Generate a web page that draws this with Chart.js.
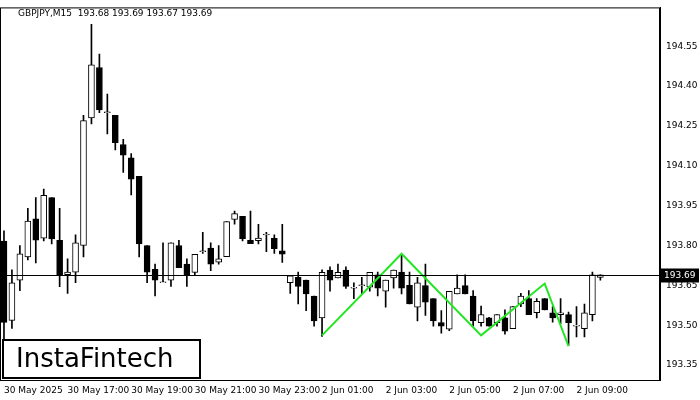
<!DOCTYPE html>
<html>
<head>
<meta charset="utf-8">
<script src="https://cdn.jsdelivr.net/npm/chart.js@4.4.1/dist/chart.umd.min.js"></script>
<style>
  body { margin: 0; background: #fff; }
  #wrap { width: 700px; height: 400px; }
</style>
</head>
<body>
<div id="wrap"><canvas id="myChart"></canvas></div>
<script>
// candle data, 15 minute bars GBPJPY
const opens  = [193.817,193.518,193.67,193.757,193.90,193.828,193.98,193.82,193.69,193.70,
  193.80,194.28,194.47,194.30,194.29,194.18,194.13,194.06,193.80,193.71,
  193.66,193.67,193.80,193.73,193.699,193.777,193.79,193.737,193.758,193.898,
  193.91,193.82,193.818,193.84,193.827,193.78,193.66,193.68,193.67,193.61,
  193.528,193.708,193.678,193.708,193.64,193.649,193.643,193.69,193.628,193.678,
  193.70,193.65,193.568,193.649,193.60,193.51,193.485,193.618,193.649,193.61,
  193.51,193.528,193.51,193.528,193.487,193.58,193.60,193.547,193.60,193.547,
  193.54,193.54,193.497,193.487,193.54,193.68];
const highs  = [193.855,193.709,193.80,193.94,193.98,194.012,193.98,193.94,193.75,193.84,
  194.29,194.632,194.52,194.37,194.29,194.20,194.146,194.06,193.80,193.73,
  193.81,193.81,193.82,193.75,193.767,193.85,193.81,193.80,193.89,193.93,
  193.91,193.93,193.88,193.85,193.84,193.88,193.686,193.70,193.67,193.61,
  193.709,193.72,193.73,193.72,193.66,193.68,193.699,193.70,193.67,193.708,
  193.765,193.70,193.68,193.73,193.60,193.555,193.628,193.69,193.69,193.63,
  193.572,193.53,193.54,193.558,193.57,193.62,193.63,193.60,193.60,193.57,
  193.60,193.55,193.57,193.58,193.70,193.69];
const lows   = [193.443,193.488,193.63,193.746,193.735,193.817,193.806,193.645,193.62,193.66,
  193.757,194.258,194.30,194.22,194.16,194.075,193.99,193.757,193.66,193.61,
  193.66,193.646,193.717,193.646,193.69,193.77,193.705,193.73,193.758,193.88,
  193.817,193.807,193.806,193.777,193.77,193.736,193.62,193.58,193.555,193.497,
  193.458,193.628,193.678,193.639,193.60,193.62,193.628,193.61,193.568,193.64,
  193.618,193.58,193.516,193.537,193.497,193.47,193.48,193.618,193.618,193.497,
  193.497,193.497,193.497,193.466,193.487,193.57,193.54,193.528,193.558,193.512,
  193.506,193.425,193.456,193.456,193.516,193.67];
const closes = [193.511,193.66,193.769,193.892,193.82,193.989,193.825,193.69,193.70,193.81,
  194.27,194.48,194.31,194.30,194.187,194.14,194.05,193.806,193.70,193.67,
  193.66,193.81,193.717,193.69,193.767,193.777,193.73,193.75,193.89,193.92,
  193.826,193.807,193.828,193.84,193.788,193.767,193.686,193.646,193.618,193.516,
  193.699,193.67,193.699,193.646,193.64,193.649,193.699,193.64,193.67,193.708,
  193.64,193.58,193.66,193.587,193.516,193.497,193.628,193.64,193.618,193.516,
  193.54,193.497,193.54,193.478,193.57,193.61,193.54,193.59,193.558,193.528,
  193.547,193.51,193.497,193.547,193.69,193.69];
const timeLabels = ['30 May 2025','30 May 17:00','30 May 19:00','30 May 21:00','30 May 23:00',
  '2 Jun 01:00','2 Jun 03:00','2 Jun 05:00','2 Jun 07:00','2 Jun 09:00'];
const priceTicks = [193.35,193.50,193.65,193.80,193.95,194.10,194.25,194.40,194.55];
// double top pattern line (candle index, price)
const patternIdx = [40, 50, 60, 68, 71];
const patternVal = [193.462, 193.769, 193.462, 193.657, 193.421];
const lastPrice = 193.69;

const slots = 83;
const labels = [];
for (let i = 0; i < slots; i++) labels.push(i % 8 === 0 ? (timeLabels[i / 8] || '') : '');

const wicks = [], bodies = [], bodyColors = [];
for (let i = 0; i < opens.length; i++) {
  wicks.push([lows[i], highs[i]]);
  let o = opens[i], c = closes[i];
  if (Math.abs(o - c) < 0.003) c = o + 0.003;
  bodies.push([o, c]);
  bodyColors.push(closes[i] >= opens[i] ? '#ffffff' : '#000000');
}
const pattern = new Array(slots).fill(null);
patternIdx.forEach((k, j) => { pattern[k] = patternVal[j]; });

const overlay = {
  id: 'overlay',
  afterDatasetsDraw(chart) {
    const ctx = chart.ctx, a = chart.chartArea, y = chart.scales.y;
    ctx.save();
    // frame
    ctx.strokeStyle = '#000'; ctx.lineWidth = 1;
    ctx.strokeRect(a.left + 0.5, a.top + 0.5, a.right - a.left - 1, a.bottom - a.top);
    // last price line
    const py = Math.round(y.getPixelForValue(lastPrice)) + 0.5;
    ctx.beginPath(); ctx.moveTo(a.left, py); ctx.lineTo(a.right, py); ctx.stroke();
    ctx.fillStyle = '#000';
    ctx.fillRect(a.right + 1, py - 7, 38, 14);
    ctx.fillStyle = '#fff'; ctx.font = '9px "DejaVu Sans"';
    ctx.textBaseline = 'middle'; ctx.textAlign = 'left';
    ctx.fillText(lastPrice.toFixed(2), a.right + 4, py);
    // header
    ctx.fillStyle = '#000'; ctx.textBaseline = 'alphabetic';
    ctx.fillText('GBPJPY,M15  193.68 193.69 193.67 193.69', 18, 16);
    // logo
    ctx.fillStyle = '#fff'; ctx.fillRect(3, 340, 197, 38);
    ctx.lineWidth = 2; ctx.strokeRect(3, 340, 197, 38);
    ctx.fillStyle = '#000'; ctx.font = '26px "DejaVu Sans"';
    ctx.textBaseline = 'middle';
    ctx.fillText('InstaFintech', 16, 360);
    ctx.restore();
  }
};

new Chart(document.getElementById('myChart'), {
  data: {
    labels: labels,
    datasets: [
      { type: 'line', data: pattern, spanGaps: true, borderColor: '#22e622', borderWidth: 2,
        pointRadius: 0, order: 0 },
      { type: 'bar', data: bodies, backgroundColor: bodyColors, borderColor: '#000',
        borderWidth: 1, borderSkipped: false, barThickness: 6, grouped: false, order: 1 },
      { type: 'bar', data: wicks, backgroundColor: '#000', barThickness: 1, grouped: false, order: 2 }
    ]
  },
  options: {
    responsive: true,
    maintainAspectRatio: false,
    animation: false,
    layout: { padding: { top: 5, left: 0, right: 0, bottom: 0 } },
    plugins: { legend: { display: false }, tooltip: { enabled: false } },
    scales: {
      x: {
        offset: true,
        grid: { display: false, drawTicks: true, tickLength: 4, color: '#000' },
        border: { color: '#000' },
        ticks: {
          autoSkip: false, maxRotation: 0, align: 'start', padding: 1,
          color: '#000', font: { size: 9, family: 'DejaVu Sans' },
          callback: (v, i) => labels[i]
        },
        afterFit: s => { s.height = 20; }
      },
      y: {
        position: 'right',
        min: 193.294, max: 194.696,
        afterBuildTicks: s => { s.ticks = priceTicks.map(v => ({ value: v })); },
        grid: { display: false, drawTicks: true, tickLength: 4, color: '#000' },
        border: { color: '#000' },
        ticks: { color: '#000', padding: 2, font: { size: 9, family: 'DejaVu Sans' },
          callback: v => v.toFixed(2) },
        afterFit: s => { s.width = 40; }
      }
    }
  },
  plugins: [overlay]
});
</script>
</body>
</html>
